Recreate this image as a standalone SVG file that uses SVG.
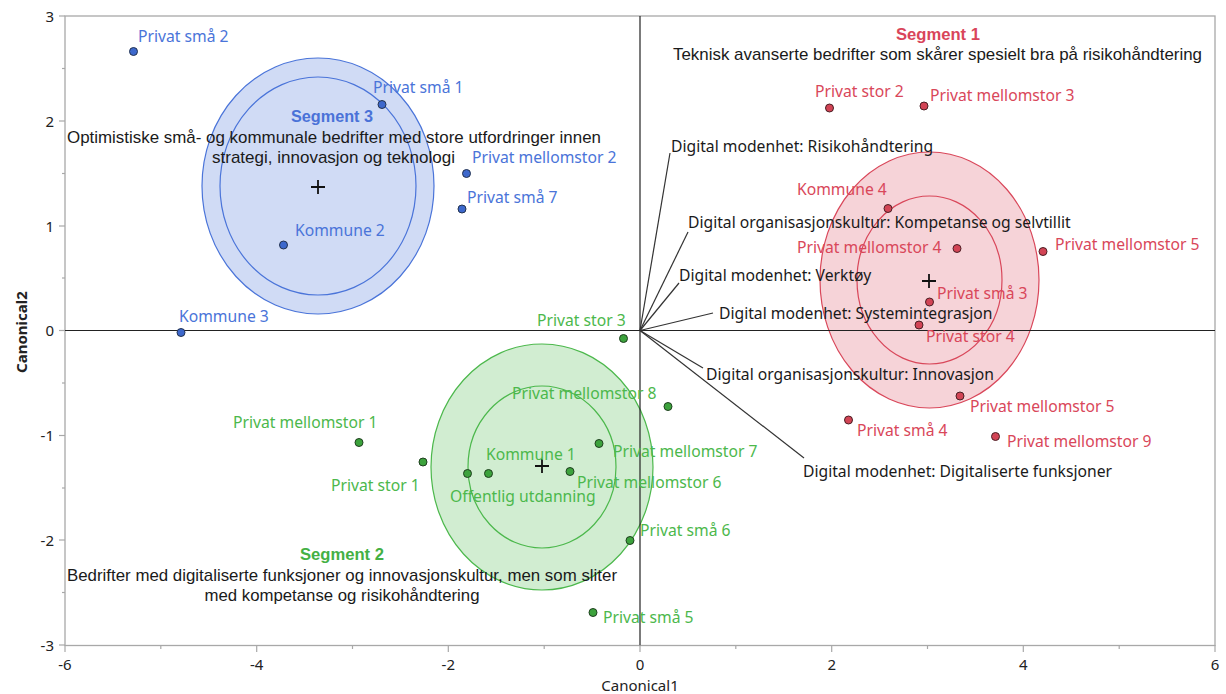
<svg xmlns="http://www.w3.org/2000/svg" width="1226" height="694" viewBox="0 0 1226 694">
<style>
.frame{fill:none;stroke:#a8a8a8;stroke-width:1.3}
.tick{stroke:#a8a8a8;stroke-width:1.2}
.tl{font-family:"Noto Sans","Open Sans",sans-serif;font-size:15px;fill:#222}
.ax{stroke:#222;stroke-width:1.2}
.ray{stroke:#333;stroke-width:1.2;fill:none}
.rl{font-family:"Noto Sans","Open Sans",sans-serif;font-size:15.7px;fill:#1a1a1a}
.lb{font-family:"Noto Sans","Open Sans",sans-serif;font-size:15.7px}
.b{fill:#4a74d9}.g{fill:#4cb84c}.r{fill:#d9475a}
.pb{fill:#3d68cc;stroke:#23324f;stroke-width:1}
.pg{fill:#3ca23c;stroke:#1f3f1f;stroke-width:1}
.pr{fill:#d24455;stroke:#4a1f24;stroke-width:1}
.eb{fill:#4a74d9;fill-opacity:0.26;stroke:#4a74d9;stroke-width:1.2}
.eb2{fill:none;stroke:#4a74d9;stroke-width:1.2}
.eg{fill:#4cb84c;fill-opacity:0.26;stroke:#4cb84c;stroke-width:1.2}
.eg2{fill:none;stroke:#4cb84c;stroke-width:1.2}
.er{fill:#d9475a;fill-opacity:0.24;stroke:#d9475a;stroke-width:1.2}
.er2{fill:none;stroke:#d9475a;stroke-width:1.2}
.cross{stroke:#111;stroke-width:1.8}
.st{font-family:"Liberation Sans",Arial,sans-serif;font-size:16px;font-weight:bold;text-anchor:middle}
.sd{font-family:"Liberation Sans",Arial,sans-serif;font-size:17px;fill:#1a1a1a;text-anchor:middle}
</style>
<rect width="1226" height="694" fill="#fff"/>
<g id="ellipses">
<ellipse class="eb" cx="318" cy="186" rx="116" ry="128"/>
<ellipse class="eb2" cx="318" cy="186" rx="98" ry="109"/>
<ellipse class="eg" cx="542" cy="467" rx="111" ry="123"/>
<ellipse class="eg2" cx="542" cy="467" rx="74" ry="81"/>
<ellipse class="er" cx="929.5" cy="280" rx="109.5" ry="128"/>
<ellipse class="er2" cx="929.5" cy="280" rx="72.5" ry="84"/>
</g>
<g id="axes">
<rect class="frame" x="65" y="16" width="1150" height="629.5"/>
<line class="ax" x1="65" y1="330.5" x2="1215" y2="330.5"/>
<line class="ax" x1="640" y1="16" x2="640" y2="645.5"/>
<g class="tick">
<line x1="59" y1="16" x2="65" y2="16"/><line x1="59" y1="121" x2="65" y2="121"/><line x1="59" y1="226" x2="65" y2="226"/><line x1="59" y1="330.5" x2="65" y2="330.5"/><line x1="59" y1="435.5" x2="65" y2="435.5"/><line x1="59" y1="540" x2="65" y2="540"/><line x1="59" y1="645" x2="65" y2="645"/>
<line x1="62" y1="68.5" x2="65" y2="68.5"/><line x1="62" y1="173.5" x2="65" y2="173.5"/><line x1="62" y1="278" x2="65" y2="278"/><line x1="62" y1="383" x2="65" y2="383"/><line x1="62" y1="488" x2="65" y2="488"/><line x1="62" y1="592.5" x2="65" y2="592.5"/>
<line x1="65" y1="645" x2="65" y2="652"/><line x1="256.7" y1="645" x2="256.7" y2="652"/><line x1="448.3" y1="645" x2="448.3" y2="652"/><line x1="640" y1="645" x2="640" y2="652"/><line x1="831.7" y1="645" x2="831.7" y2="652"/><line x1="1023.3" y1="645" x2="1023.3" y2="652"/><line x1="1215" y1="645" x2="1215" y2="652"/>
<line x1="160.8" y1="645" x2="160.8" y2="649"/><line x1="352.5" y1="645" x2="352.5" y2="649"/><line x1="544.2" y1="645" x2="544.2" y2="649"/><line x1="735.8" y1="645" x2="735.8" y2="649"/><line x1="927.5" y1="645" x2="927.5" y2="649"/><line x1="1119.2" y1="645" x2="1119.2" y2="649"/>
</g>
<g class="tl" text-anchor="end">
<text x="54" y="21.5">3</text><text x="54" y="126.5">2</text><text x="54" y="231.5">1</text><text x="54" y="336">0</text><text x="54" y="441">-1</text><text x="54" y="545.5">-2</text><text x="54" y="650.5">-3</text>
</g>
<g class="tl" text-anchor="middle">
<text x="65" y="670">-6</text><text x="256.7" y="670">-4</text><text x="448.3" y="670">-2</text><text x="640" y="670">0</text><text x="831.7" y="670">2</text><text x="1023.3" y="670">4</text><text x="1215" y="670">6</text>
</g>
<text class="tl" x="640" y="691" text-anchor="middle">Canonical1</text>
<text class="tl" x="0" y="0" text-anchor="middle" font-weight="bold" transform="translate(27,332) rotate(-90)">Canonical2</text>
</g>
<g id="connectors">
<line class="ray" x1="640" y1="330.5" x2="670" y2="153"/>
<line class="ray" x1="640" y1="330.5" x2="688" y2="232"/>
<line class="ray" x1="640" y1="330.5" x2="679" y2="283"/>
<line class="ray" x1="640" y1="330.5" x2="713" y2="313"/>
<line class="ray" x1="640" y1="330.5" x2="703" y2="368"/>
<line class="ray" x1="640" y1="330.5" x2="804" y2="458"/>
</g>
<g id="ray-labels" class="rl">
<text x="671" y="152">Digital modenhet: Risikohåndtering</text>
<text x="688" y="228">Digital organisasjonskultur: Kompetanse og selvtillit</text>
<text x="679" y="281">Digital modenhet: Verktøy</text>
<text x="719" y="319">Digital modenhet: Systemintegrasjon</text>
<text x="706" y="380">Digital organisasjonskultur: Innovasjon</text>
<text x="803" y="477">Digital modenhet: Digitaliserte funksjoner</text>
</g>
<g id="centroids">
<path class="cross" d="M311 187h14M318 180v14"/>
<path class="cross" d="M535 466h14M542 459v14"/>
<path class="cross" d="M922 281h14M929 274v14"/>
</g>
<g id="segment3">
<g id="n-privat-sma-2"><circle class="pb" cx="133.5" cy="51.5" r="4"/><text class="lb b" x="138" y="42">Privat små 2</text></g>
<g id="n-privat-sma-1"><circle class="pb" cx="382" cy="104.5" r="4"/><text class="lb b" x="373" y="93">Privat små 1</text></g>
<g id="n-privat-mellomstor-2"><circle class="pb" cx="466.5" cy="173.5" r="4"/><text class="lb b" x="472" y="163">Privat mellomstor 2</text></g>
<g id="n-privat-sma-7"><circle class="pb" cx="462" cy="209" r="4"/><text class="lb b" x="467" y="203">Privat små 7</text></g>
<g id="n-kommune-2"><circle class="pb" cx="283.5" cy="245" r="4"/><text class="lb b" x="295" y="236">Kommune 2</text></g>
<g id="n-kommune-3"><circle class="pb" cx="181" cy="332.5" r="4"/><text class="lb b" x="179" y="322">Kommune 3</text></g>
</g>
<g id="segment2">
<g id="n-privat-stor-3"><circle class="pg" cx="623.5" cy="338.5" r="4"/><text class="lb g" x="537" y="326">Privat stor 3</text></g>
<g id="n-privat-mellomstor-8"><circle class="pg" cx="668" cy="406.5" r="4"/><text class="lb g" x="512" y="399">Privat mellomstor 8</text></g>
<g id="n-privat-mellomstor-7"><circle class="pg" cx="599" cy="443.5" r="4"/><text class="lb g" x="613" y="457">Privat mellomstor 7</text></g>
<g id="n-privat-mellomstor-6"><circle class="pg" cx="570" cy="471.5" r="4"/><text class="lb g" x="577" y="488">Privat mellomstor 6</text></g>
<g id="n-kommune-1"><circle class="pg" cx="488.5" cy="473.5" r="4"/><text class="lb g" x="486" y="460">Kommune 1</text></g>
<g id="n-offentlig-utdanning"><circle class="pg" cx="467.5" cy="473.5" r="4"/><text class="lb g" x="450" y="502">Offentlig utdanning</text></g>
<g id="n-privat-stor-1"><circle class="pg" cx="423" cy="462" r="4"/><text class="lb g" x="331" y="491">Privat stor 1</text></g>
<g id="n-privat-mellomstor-1"><circle class="pg" cx="359" cy="442.5" r="4"/><text class="lb g" x="233" y="428">Privat mellomstor 1</text></g>
<g id="n-privat-sma-6"><circle class="pg" cx="630" cy="540.5" r="4"/><text class="lb g" x="640" y="536">Privat små 6</text></g>
<g id="n-privat-sma-5"><circle class="pg" cx="593" cy="612.5" r="4"/><text class="lb g" x="603" y="623">Privat små 5</text></g>
</g>
<g id="segment1">
<g id="n-privat-stor-2"><circle class="pr" cx="829.5" cy="108" r="4"/><text class="lb r" x="815" y="97">Privat stor 2</text></g>
<g id="n-privat-mellomstor-3"><circle class="pr" cx="924" cy="106" r="4"/><text class="lb r" x="930" y="101">Privat mellomstor 3</text></g>
<g id="n-kommune-4"><circle class="pr" cx="888" cy="208.5" r="4"/><text class="lb r" x="797" y="195">Kommune 4</text></g>
<g id="n-privat-mellomstor-4"><circle class="pr" cx="957" cy="248.5" r="4"/><text class="lb r" x="797" y="253">Privat mellomstor 4</text></g>
<g id="n-privat-mellomstor-5a"><circle class="pr" cx="1043" cy="251.5" r="4"/><text class="lb r" x="1055" y="250">Privat mellomstor 5</text></g>
<g id="n-privat-sma-3"><circle class="pr" cx="929.5" cy="302" r="4"/><text class="lb r" x="937" y="299">Privat små 3</text></g>
<g id="n-privat-stor-4"><circle class="pr" cx="919" cy="325" r="4"/><text class="lb r" x="926" y="342">Privat stor 4</text></g>
<g id="n-privat-mellomstor-5b"><circle class="pr" cx="960" cy="396" r="4"/><text class="lb r" x="970" y="412">Privat mellomstor 5</text></g>
<g id="n-privat-sma-4"><circle class="pr" cx="848.5" cy="420" r="4"/><text class="lb r" x="857" y="436">Privat små 4</text></g>
<g id="n-privat-mellomstor-9"><circle class="pr" cx="995.5" cy="436.5" r="4"/><text class="lb r" x="1007" y="447">Privat mellomstor 9</text></g>
</g>
<g id="segment-texts">
<text class="st" x="332" y="122" fill="#4a72d8" textLength="82" lengthAdjust="spacingAndGlyphs">Segment 3</text>
<text class="sd" x="334" y="143" textLength="534" lengthAdjust="spacingAndGlyphs">Optimistiske små- og kommunale bedrifter med store utfordringer innen</text>
<text class="sd" x="333.5" y="163" textLength="243" lengthAdjust="spacingAndGlyphs">strategi, innovasjon og teknologi</text>
<text class="st" x="342" y="560" fill="#44b044" textLength="84" lengthAdjust="spacingAndGlyphs">Segment 2</text>
<text class="sd" x="342" y="581" textLength="550" lengthAdjust="spacingAndGlyphs">Bedrifter med digitaliserte funksjoner og innovasjonskultur, men som sliter</text>
<text class="sd" x="342" y="601" textLength="275" lengthAdjust="spacingAndGlyphs">med kompetanse og risikohåndtering</text>
<text class="st" x="938" y="40" fill="#d9455a" textLength="84" lengthAdjust="spacingAndGlyphs">Segment 1</text>
<text class="sd" x="937.5" y="60" textLength="529" lengthAdjust="spacingAndGlyphs">Teknisk avanserte bedrifter som skårer spesielt bra på risikohåndtering</text>
</g>
</svg>
